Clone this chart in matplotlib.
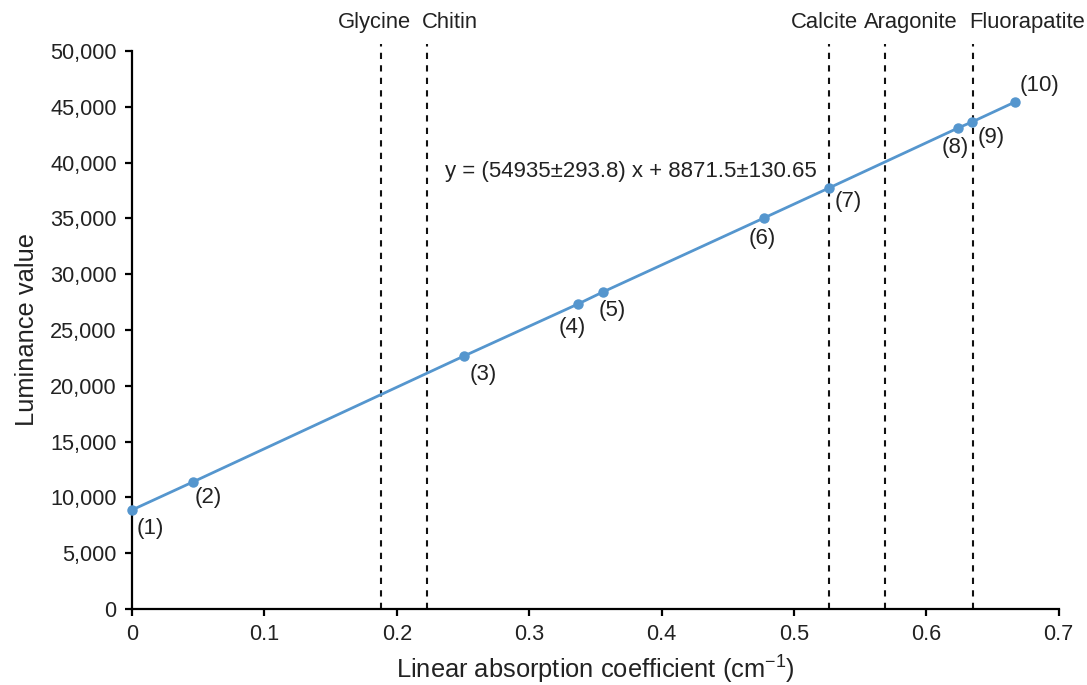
"""Luminance value versus linear absorption coefficient, with mineral reference lines."""

import matplotlib

matplotlib.use("Agg")
import matplotlib.pyplot as plt
import matplotlib.transforms as mtransforms
import numpy as np

absorption = [0.0, 0.046, 0.2508, 0.3369, 0.3557, 0.4773, 0.5264, 0.6239, 0.6344, 0.6669]
luminance = [8871, 11380, 22670, 27330, 28405, 35036, 37724, 43100, 43638, 45430]
point_labels = ["(1)", "(2)", "(3)", "(4)", "(5)", "(6)", "(7)", "(8)", "(9)", "(10)"]

# reference materials
materials = ["Glycine", "Chitin", "Calcite", "Aragonite", "Fluorapatite"]
material_mu = [0.188, 0.2228, 0.5264, 0.5687, 0.635]
material_label_x = [0.1835, 0.2402, 0.5227, 0.5884, 0.676]

equation = "y = (54935±293.8) x + 8871.5±130.65"

plt.rcParams["font.family"] = ["Liberation Sans", "DejaVu Sans"]
plt.rcParams["mathtext.default"] = "regular"

fig = plt.figure(figsize=(10.87, 6.85), dpi=100)
ax = fig.add_axes([0.1214, 0.111, 0.8526, 0.8145])

blue = "#5596CE"
ax.plot(absorption, luminance, "-o", color=blue, lw=2.0, markersize=6.5, zorder=3,
        clip_on=False)

# label offsets in points
offsets = [(13, -13), (11, -11), (14, -13), (-4, -17), (7, -13),
           (-1, -15), (14, -10), (-2, -14), (14, -11), (18, 12)]
for x, y, lab, off in zip(absorption, luminance, point_labels, offsets):
    ax.annotate(lab, (x, y), xytext=off, textcoords="offset points",
                ha="center", va="center", fontsize=16, color="#222222")

trans = mtransforms.blended_transform_factory(ax.transData, ax.transAxes)
for mu in material_mu:
    ax.plot([mu, mu], [0, 1.0125], transform=trans, color="#111111", lw=1.5,
            dashes=(3, 3), clip_on=False, zorder=2)
for name, lx in zip(materials, material_label_x):
    ax.text(lx, 1.052, name, transform=trans, ha="center", va="center",
            fontsize=15.8, color="#222222")

ax.text(0.2364, 39160, equation, ha="left", va="center", fontsize=16, color="#222222")

ax.set_xlim(0, 0.7)
ax.set_ylim(0, 50000)
ax.set_xticks(np.arange(0, 0.71, 0.1))
ax.set_xticklabels(["0", "0.1", "0.2", "0.3", "0.4", "0.5", "0.6", "0.7"])
ax.set_yticks(np.arange(0, 50001, 5000))
ax.yaxis.set_major_formatter(matplotlib.ticker.FuncFormatter(lambda v, p: f"{int(v):,}"))

for side in ["top", "right"]:
    ax.spines[side].set_visible(False)
for side in ["left", "bottom"]:
    ax.spines[side].set_linewidth(1.6)
    ax.spines[side].set_color("black")
ax.tick_params(direction="out", length=5, width=1.6, labelsize=15.7, colors="black",
               labelcolor="#222222", pad=6)

ax.set_xlabel("Linear absorption coefficient (cm$^{-1}$)", fontsize=18.4, color="#222222",
              labelpad=6)
ax.set_ylabel("Luminance value", fontsize=18.4, color="#222222", labelpad=8)

fig.savefig("out.png", dpi=100)
